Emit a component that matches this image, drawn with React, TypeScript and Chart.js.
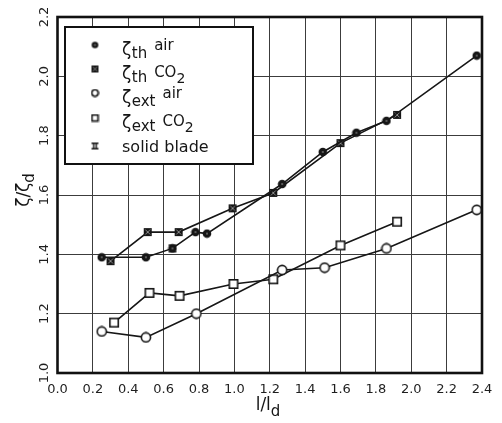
import React, { useEffect, useRef } from "react";
import { Chart, registerables } from "chart.js";

Chart.register(...registerables);

// ζ_th (air) – filled circles
const thAirX = [0.25, 0.5, 0.65, 0.78, 0.845, 1.27, 1.5, 1.69, 1.86, 2.37];
const thAirY = [1.39, 1.39, 1.42, 1.475, 1.47, 1.637, 1.745, 1.81, 1.85, 2.07];
// ζ_th (CO2) – filled crossed squares
const thCo2X = [0.3, 0.51, 0.685, 0.99, 1.22, 1.6, 1.92];
const thCo2Y = [1.377, 1.475, 1.475, 1.555, 1.607, 1.775, 1.87];
// ζ_ext (air) – open circles
const extAirX = [0.25, 0.5, 0.785, 1.27, 1.51, 1.86, 2.37];
const extAirY = [1.14, 1.12, 1.2, 1.347, 1.355, 1.42, 1.55];
// ζ_ext (CO2) – open squares
const extCo2X = [0.32, 0.52, 0.69, 0.995, 1.22, 1.6, 1.92];
const extCo2Y = [1.17, 1.27, 1.26, 1.3, 1.316, 1.43, 1.51];
// solid blade
const solidX = [0.65];
const solidY = [1.42];

const xTickValues = [0, 0.2, 0.4, 0.6, 0.8, 1.0, 1.2, 1.4, 1.6, 1.8, 2.0, 2.2, 2.4];
const xTickLabels = ["0.0", "0.2", "0.4", "0.6", "0.8", "1.0", "1.2", "1.4", "1.6", "1.8", "2.0", "2.2", "2.4"];
const yTickValues = [1.0, 1.2, 1.4, 1.6, 1.8, 2.0, 2.2];
const yTickLabels = ["1.0", "1.2", "1.4", "1.6", "1.8", "2.0", "2.2"];

// legend rows: symbol, subscript, superscript, subscript of the superscript
const legendMain = ["ζ", "ζ", "ζ", "ζ", "solid blade"];
const legendSub = ["th", "th", "ext", "ext", ""];
const legendSup = ["air", "CO", "air", "CO", ""];
const legendSupSub = ["", "2", "", "2", ""];

const INK = "#161616";
const FONT = "'DejaVu Sans', sans-serif";

function markerCanvas(kind: string, small = false): HTMLCanvasElement {
  const c = document.createElement("canvas");
  const s = small ? 9 : kind === "extAir" || kind === "extCo2" ? 12 : 10;
  c.width = s;
  c.height = s;
  const g = c.getContext("2d")!;
  g.lineWidth = 1.6;
  g.strokeStyle = INK;
  g.fillStyle = INK;
  const h = s / 2;
  if (kind === "thAir") {
    g.beginPath();
    g.arc(h, h, small ? 3.3 : 4.3, 0, Math.PI * 2);
    g.fill();
    g.fillStyle = "#6a6a6a";
    g.beginPath();
    g.arc(h, h, 1.1, 0, Math.PI * 2);
    g.fill();
  } else if (kind === "thCo2") {
    g.fillRect(1, 1, s - 2, s - 2);
    g.strokeStyle = "#8a8a8a";
    g.lineWidth = 1;
    g.beginPath();
    g.moveTo(2.5, 2.5);
    g.lineTo(s - 2.5, s - 2.5);
    g.moveTo(s - 2.5, 2.5);
    g.lineTo(2.5, s - 2.5);
    g.stroke();
  } else if (kind === "extAir") {
    g.fillStyle = "#fff";
    g.beginPath();
    g.arc(h, h, small ? 3.2 : 4.6, 0, Math.PI * 2);
    g.fill();
    g.stroke();
  } else if (kind === "extCo2") {
    const p = small ? 1.5 : 1.8;
    g.fillStyle = "#fff";
    g.fillRect(p, p, s - 2 * p, s - 2 * p);
    g.strokeRect(p, p, s - 2 * p, s - 2 * p);
  } else {
    g.lineWidth = 1.4;
    g.beginPath();
    g.moveTo(1, 1.7);
    g.lineTo(s - 1, 1.7);
    g.moveTo(1, s - 1.7);
    g.lineTo(s - 1, s - 1.7);
    g.moveTo(3.3, 1.7);
    g.lineTo(3.3, s - 1.7);
    g.moveTo(s - 3.3, 1.7);
    g.lineTo(s - 3.3, s - 1.7);
    g.stroke();
  }
  return c;
}

const pts = (xs: number[], ys: number[]) => xs.map((x, i) => ({ x, y: ys[i] }));

const decorPlugin = {
  id: "decor",
  afterDraw(chart: any) {
    const ctx: CanvasRenderingContext2D = chart.ctx;
    const a = chart.chartArea;
    ctx.save();

    // plot frame
    ctx.strokeStyle = "#111";
    ctx.lineWidth = 2.6;
    ctx.strokeRect(a.left, a.top, a.right - a.left, a.bottom - a.top);

    // legend box
    const bx = 65, by = 27, bw = 188, bh = 137;
    ctx.fillStyle = "#fff";
    ctx.fillRect(bx, by, bw, bh);
    ctx.lineWidth = 2;
    ctx.strokeStyle = "#111";
    ctx.strokeRect(bx, by, bw, bh);

    const kinds = ["thAir", "thCo2", "extAir", "extCo2", "solid"];
    const rowTop = [43, 67, 91, 116, 140];
    ctx.fillStyle = INK;
    ctx.textAlign = "left";
    ctx.textBaseline = "alphabetic";
    for (let i = 0; i < 5; i++) {
      const t = rowTop[i];
      const m = markerCanvas(kinds[i], true);
      ctx.drawImage(m, 95 - m.width / 2, t + 2 - m.height / 2 + (i === 4 ? 4 : 0));
      let x = 122;
      if (legendSub[i]) {
        ctx.font = `17px ${FONT}`;
        ctx.fillText(legendMain[i], x, t + 12);
        x += ctx.measureText(legendMain[i]).width + 0.5;
        ctx.font = `15px ${FONT}`;
        ctx.fillText(legendSub[i], x, t + 15);
        x += ctx.measureText(legendSub[i]).width + 7;
        const supBase = legendSupSub[i] ? t + 10 : t + 7;
        ctx.fillText(legendSup[i], x, supBase);
        x += ctx.measureText(legendSup[i]).width;
        if (legendSupSub[i]) {
          ctx.font = `14px ${FONT}`;
          ctx.fillText(legendSupSub[i], x, t + 16);
        }
      } else {
        ctx.font = `16px ${FONT}`;
        ctx.fillText(legendMain[i], x, t + 12);
      }
    }

    // y-axis title ζ/ζ_d, reading upward
    ctx.save();
    ctx.translate(29, 190);
    ctx.rotate(-Math.PI / 2);
    ctx.font = `17px ${FONT}`;
    const ym = "ζ/ζ";
    const yw = ctx.measureText(ym).width;
    ctx.font = `15px ${FONT}`;
    const ydw = ctx.measureText("d").width;
    const yx = -(yw + ydw) / 2;
    ctx.font = `17px ${FONT}`;
    ctx.fillText(ym, yx, 0);
    ctx.font = `15px ${FONT}`;
    ctx.fillText("d", yx + yw, 5);
    ctx.restore();

    // x-axis title l/l_d
    ctx.font = `17px ${FONT}`;
    const xm = "l/l";
    const xw = ctx.measureText(xm).width;
    ctx.font = `15px ${FONT}`;
    const xdw = ctx.measureText("d").width;
    const xx = 268 - (xw + xdw) / 2;
    ctx.font = `17px ${FONT}`;
    ctx.fillText(xm, xx, 410);
    ctx.font = `15px ${FONT}`;
    ctx.fillText("d", xx + xw, 416);

    ctx.restore();
  },
};

function lineSet(label: string, data: any[], kind: string, showLine = true) {
  return {
    label,
    data,
    showLine,
    borderColor: INK,
    borderWidth: 1.6,
    backgroundColor: INK,
    pointStyle: markerCanvas(kind),
    pointRadius: 5,
    tension: 0,
  };
}

export default function App() {
  const ref = useRef<HTMLCanvasElement>(null);

  useEffect(() => {
    const chart = new Chart(ref.current!, {
      type: "scatter",
      data: {
        datasets: [
          lineSet("ζth air", pts(thAirX, thAirY), "thAir"),
          lineSet("ζth CO2", pts(thCo2X, thCo2Y), "thCo2"),
          lineSet("ζext air", pts(extAirX, extAirY), "extAir"),
          lineSet("ζext CO2", pts(extCo2X, extCo2Y), "extCo2"),
          lineSet("solid blade", pts(solidX, solidY), "solid", false),
        ],
      },
      options: {
        responsive: false,
        animation: false,
        layout: { padding: { left: 0, top: 17, right: 20, bottom: 0 } },
        plugins: {
          legend: { display: false },
          tooltip: { enabled: false },
        },
        scales: {
          x: {
            type: "linear",
            min: 0,
            max: 2.4,
            afterBuildTicks: (s: any) => {
              s.ticks = xTickValues.map((v) => ({ value: v }));
            },
            afterFit: (s: any) => {
              s.height = 50;
              s.paddingLeft = 0;
              s.paddingRight = 0;
            },
            ticks: {
              autoSkip: false,
              maxRotation: 0,
              padding: 9,
              color: "#1e1e1e",
              font: { family: FONT, size: 13 },
              callback: (_v: any, i: number) => xTickLabels[i],
            },
            grid: { color: "#3c3c3c", lineWidth: 1, drawTicks: false },
            border: { display: false },
          },
          y: {
            type: "linear",
            min: 1.0,
            max: 2.2,
            afterBuildTicks: (s: any) => {
              s.ticks = yTickValues.map((v) => ({ value: v }));
            },
            afterFit: (s: any) => {
              s.width = 57.5;
              s.paddingTop = 0;
              s.paddingBottom = 0;
            },
            ticks: {
              autoSkip: false,
              minRotation: 90,
              maxRotation: 90,
              crossAlign: "center",
              padding: 3,
              color: "#1e1e1e",
              font: { family: FONT, size: 13 },
              callback: (_v: any, i: number) => yTickLabels[i],
            },
            grid: { color: "#3c3c3c", lineWidth: 1, drawTicks: false },
            border: { display: false },
          },
        },
      },
      plugins: [decorPlugin],
    } as any);
    return () => chart.destroy();
  }, []);

  return (
    <div style={{ position: "absolute", left: 0, top: 0, width: 502, height: 423, background: "#fff" }}>
      <canvas ref={ref} width={502} height={423} style={{ display: "block" }} />
    </div>
  );
}
